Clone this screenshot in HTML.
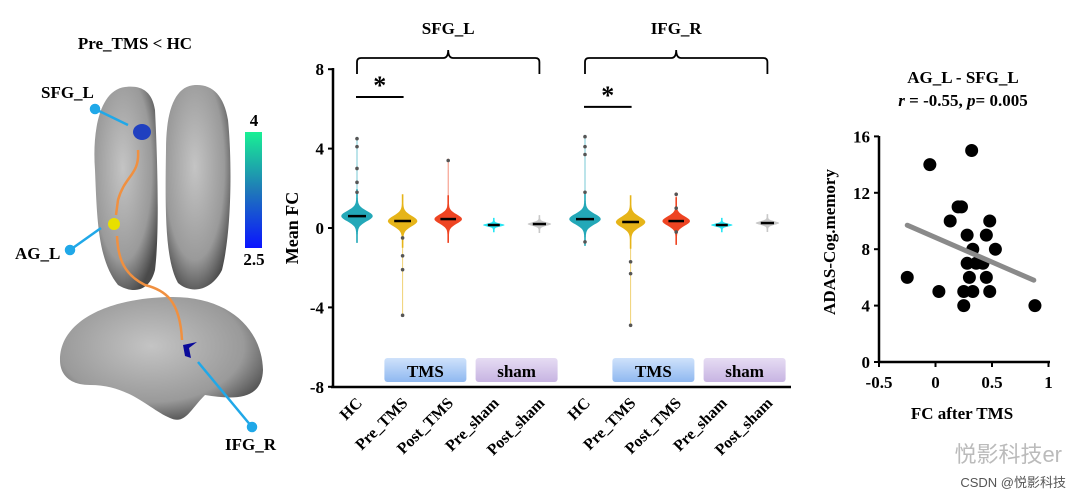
<!DOCTYPE html>
<html><head><meta charset="utf-8"><style>
body{margin:0;background:#fff;width:1080px;height:499px;overflow:hidden}
svg{font-family:"Liberation Serif",serif;font-weight:bold}
</style></head><body>
<svg id="fig" width="1080" height="499" viewBox="0 0 1080 499">
<defs>
<radialGradient id="brainG" cx="45%" cy="40%" r="65%"><stop offset="0" stop-color="#c4c4c4"/><stop offset="0.7" stop-color="#9a9a9a"/><stop offset="1" stop-color="#4a4a4a"/></radialGradient>
<linearGradient id="cbar" x1="0" y1="1" x2="0" y2="0"><stop offset="0" stop-color="#0a14ff"/><stop offset="0.5" stop-color="#1f7ab8"/><stop offset="1" stop-color="#19f094"/></linearGradient>
<linearGradient id="tmsG" x1="0" y1="0" x2="0" y2="1"><stop offset="0" stop-color="#cfe2fb"/><stop offset="1" stop-color="#8fb8f0"/></linearGradient>
<linearGradient id="shamG" x1="0" y1="0" x2="0" y2="1"><stop offset="0" stop-color="#e6dcf3"/><stop offset="1" stop-color="#c7b4e2"/></linearGradient>
</defs>
<g>
<text x="135" y="49" font-size="17" text-anchor="middle">Pre_TMS  &lt; HC</text>
<path d="M125,87 C100,90 92,130 95,170 C97,220 98,260 118,285 C135,295 150,290 155,270 C160,230 157,150 155,110 C152,90 140,85 125,87Z" fill="url(#brainG)"/>
<path d="M195,85 C175,86 166,110 166,150 C165,210 165,260 178,283 C192,295 212,290 222,270 C232,230 232,160 228,120 C224,95 212,84 195,85Z" fill="url(#brainG)"/>
<path d="M60,360 C60,320 110,298 170,297 C230,296 262,330 263,370 C262,400 235,400 205,395 C190,410 185,425 170,418 C150,410 130,385 90,385 C70,385 60,375 60,360Z" fill="url(#brainG)"/>
<ellipse cx="142" cy="132" rx="9" ry="8" fill="#2040c0"/>
<path d="M183,345 l14,-3 -8,6 2,10 -6,-2Z" fill="#0a0a9a"/>
<path d="M138,150 C140,175 125,175 118,200 L116,215 M117,236 C118,260 125,275 145,285 C165,290 180,300 182,340" stroke="#f09040" stroke-width="2.5" fill="none"/>
<circle cx="114" cy="224" r="6" fill="#e8e000"/>
<g stroke="#20a8e8" stroke-width="2.5" fill="#20a8e8">
<circle cx="95" cy="109" r="4"/><line x1="95" y1="109" x2="128" y2="125"/>
<circle cx="70" cy="250" r="4"/><line x1="70" y1="250" x2="101" y2="228"/>
<circle cx="252" cy="427" r="4"/><line x1="252" y1="427" x2="198" y2="362"/>
</g>
<text x="41" y="98" font-size="17">SFG_L</text>
<text x="15" y="259" font-size="17">AG_L</text>
<text x="225" y="450" font-size="17">IFG_R</text>
<rect x="245" y="132" width="17" height="116" fill="url(#cbar)"/>
<text x="254" y="126" font-size="17" text-anchor="middle">4</text>
<text x="254" y="265" font-size="17" text-anchor="middle">2.5</text>
</g>
<g id="violin"></g>
<g id="scatter"></g>
<text x="1062" y="462" font-family="Liberation Sans,Noto Sans CJK SC,sans-serif" font-weight="normal" font-size="22" fill="#bbb" text-anchor="end">悦影科技er</text>
<text x="1066" y="487" font-family="Liberation Sans,Noto Sans CJK SC,sans-serif" font-weight="normal" font-size="13" fill="#555" text-anchor="end">CSDN @悦影科技</text>
</svg>
<script>
const NS='http://www.w3.org/2000/svg';
function mk(p,t,a){const e=document.createElementNS(NS,t);for(const k in a)e.setAttribute(k,a[k]);p.appendChild(e);return e;}
const groupLabels=['HC','Pre_TMS','Post_TMS','Pre_sham','Post_sham','HC','Pre_TMS','Post_TMS','Pre_sham','Post_sham'];
const regionLabels=['SFG_L','IFG_R'];
const yTicks=[8,4,0,-4,-8];
const medians=[0.6,0.35,0.45,0.15,0.2,0.45,0.3,0.35,0.15,0.25];
const groupMin=[-0.1,-4.4,-0.3,0.05,0.05,-0.7,-4.9,-0.4,0.0,0.1];
const groupMax=[4.6,1.1,3.5,0.3,0.4,4.7,0.9,1.8,0.35,0.5];
const outliers=[[4.5,4.1,3.0,2.3,1.8],[-0.5,-1.4,-2.1,-4.4],[3.4],[],[],[4.6,4.1,3.7,1.8,-0.7],[-1.7,-2.3,-4.9],[1.7,1.0,-0.2],[],[]];
const sigPairs=[[0,1,6.6],[5,6,6.1]];
const vg=document.getElementById('violin');
const yS=v=>228-(v)*19.85, xS=i=>357+i*45.6;
const colors=['#23a8b8','#e6b418','#ee4422','#28e6f4','#c8c8c8'];
const widths=[15,14,13,10,11];
const spreads=[0.45,0.45,0.4,0.12,0.15];
mk(vg,'line',{x1:333,y1:68,x2:333,y2:388,stroke:'#000','stroke-width':2.5,});
mk(vg,'line',{x1:331,y1:387,x2:791,y2:387,stroke:'#000','stroke-width':2.5,});
yTicks.forEach(t=>{
 const tk=mk(vg,'line',{x1:328,y1:yS(t),x2:333,y2:yS(t),stroke:'#000','stroke-width':2});
 
 
 const tx=mk(vg,'text',{x:324,y:yS(t)+6,'font-size':17,'text-anchor':'end'});tx.textContent=t;
 
 
});
const yt=mk(vg,'text',{x:0,y:0,'font-size':18,'text-anchor':'middle',transform:'translate(298,228) rotate(-90)'});yt.textContent='Mean FC';


[[1,'TMS','url(#tmsG)'],[3,'sham','url(#shamG)'],[6,'TMS','url(#tmsG)'],[8,'sham','url(#shamG)']].forEach(([i,l,f])=>{
 const cx=(xS(i)+xS(i+1))/2;
 const r=mk(vg,'rect',{x:cx-41,y:358,width:82,height:24,rx:3,fill:f});
 
 
 const t=mk(vg,'text',{x:cx,y:377,'font-size':17,'text-anchor':'middle'});t.textContent=l;
 
 
});
regionLabels.forEach((lab,r)=>{
 const x0=xS(r*5), x1=xS(r*5+4), xm=(x0+x1)/2;
 const b=mk(vg,'path',{d:`M${x0},74 L${x0},62 Q${x0},58 ${x0+4},58 L${xm-5},58 Q${xm},58 ${xm},50 Q${xm},58 ${xm+5},58 L${x1-4},58 Q${x1},58 ${x1},62 L${x1},74`,fill:'none',stroke:'#000','stroke-width':1.8});
 
 
 const t=mk(vg,'text',{x:xm,y:34,'font-size':17,'text-anchor':'middle'});t.textContent=lab;
 
 
});
sigPairs.forEach(([a,b,v])=>{
 const l=mk(vg,'line',{x1:xS(a)-1,y1:yS(v),x2:xS(b)+1,y2:yS(v),stroke:'#000','stroke-width':2});
 
 
 const s=mk(vg,'text',{x:(xS(a)+xS(b))/2,y:yS(v)-3,'font-size':26,'text-anchor':'middle'});s.textContent='*';
 
 
});
groupLabels.forEach((lab,i)=>{
 const k=i%5, x=xS(i), c=colors[k];
 const ln=mk(vg,'line',{x1:x,y1:yS(groupMax[i]),x2:x,y2:yS(groupMin[i]),stroke:c,'stroke-width':1,opacity:0.6});
 
 
 let L=[],R=[];
 for(let s=0;s<=40;s++){const v=medians[i]-3*spreads[k]+s*6*spreads[k]/40;const w=widths[k]*Math.exp(-Math.pow((v-medians[i])/spreads[k],2)*1.5)+0.8;L.push([x-w,yS(v)]);R.unshift([x+w,yS(v)]);}
 const p=mk(vg,'path',{d:'M'+L.concat(R).map(q=>q[0].toFixed(1)+','+q[1].toFixed(1)).join(' L')+'Z',fill:c});
 
 
 const m=mk(vg,'line',{x1:x-widths[k]*0.6,y1:yS(medians[i]),x2:x+widths[k]*0.6,y2:yS(medians[i]),stroke:'#000','stroke-width':2.5});
 
 
 outliers[i].forEach(v=>{const d=mk(vg,'circle',{cx:x,cy:yS(v),r:1.8,fill:'#555'});
  
  });
 const t=mk(vg,'text',{x:0,y:0,'font-size':16,'text-anchor':'end',transform:`translate(${x+6},${404}) rotate(-45)`});t.textContent=lab;
 
 
});
const fcValues=[-0.25,-0.05,0.03,0.13,0.2,0.23,0.25,0.25,0.28,0.28,0.3,0.32,0.33,0.33,0.36,0.42,0.45,0.45,0.48,0.48,0.53,0.88];
const adasValues=[6,14,5,10,11,11,5,4,9,7,6,15,5,8,7,7,9,6,10,5,8,4];
const fitLine=[[-0.25,9.7],[0.87,5.8]];
const sxTicks=[-0.5,0,0.5,1];
const syTicks=[0,4,8,12,16];
const sg=document.getElementById('scatter');
const sx=v=>935.5+v*113, sy=v=>362-v*14.1;
mk(sg,'line',{x1:879,y1:136,x2:879,y2:363,stroke:'#000','stroke-width':2.5,});
mk(sg,'line',{x1:878,y1:362,x2:1050,y2:362,stroke:'#000','stroke-width':2.5,});
syTicks.forEach(t=>{
 const l=mk(sg,'line',{x1:874,y1:sy(t),x2:879,y2:sy(t),stroke:'#000','stroke-width':2});
 
 
 const tx=mk(sg,'text',{x:870,y:sy(t)+6,'font-size':17,'text-anchor':'end'});tx.textContent=t;
 
 
});
sxTicks.forEach(t=>{
 const l=mk(sg,'line',{x1:sx(t),y1:362,x2:sx(t),y2:367,stroke:'#000','stroke-width':2});
 
 
 const tx=mk(sg,'text',{x:sx(t),y:388,'font-size':17,'text-anchor':'middle'});tx.textContent=t;
 
 
});
fcValues.forEach((v,i)=>{const c=mk(sg,'circle',{cx:sx(v),cy:sy(adasValues[i]),r:6.5,fill:'#000'});
 
 });
const fl=mk(sg,'line',{x1:sx(fitLine[0][0]),y1:sy(fitLine[0][1]),x2:sx(fitLine[1][0]),y2:sy(fitLine[1][1]),stroke:'#8a8a8a','stroke-width':5,'stroke-linecap':'round'});


const st1=mk(sg,'text',{x:963,y:83,'font-size':17,'text-anchor':'middle'});st1.textContent='AG_L - SFG_L';


const st2=mk(sg,'text',{x:963,y:106,'font-size':17,'text-anchor':'middle'});st2.innerHTML='<tspan font-style="italic">r</tspan> = -0.55, <tspan font-style="italic">p</tspan>= 0.005';


const sxt=mk(sg,'text',{x:962,y:419,'font-size':17,'text-anchor':'middle'});sxt.textContent='FC after TMS';


const syt=mk(sg,'text',{x:0,y:0,'font-size':17,'text-anchor':'middle',transform:'translate(835,242) rotate(-90)'});syt.textContent='ADAS-Cog.memory';


</script>
</body></html>
